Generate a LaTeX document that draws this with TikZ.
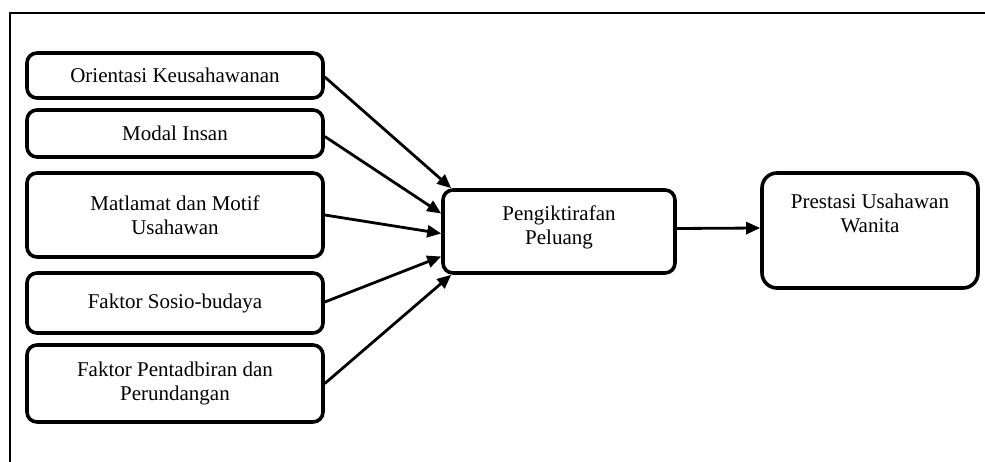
\documentclass[tikz,border=0pt]{standalone}
\usepackage{fontspec}
\setmainfont{Liberation Serif}
\usetikzlibrary{arrows.meta,calc}
\begin{document}
\begin{tikzpicture}[x=1pt,y=-1pt,
  box/.style={draw,line width=3.6pt,rounded corners=10pt,align=center,
    minimum width=296pt,inner sep=0pt,font=\fontsize{21}{23.5}\selectfont},
  bigbox/.style={box,rounded corners=15pt},
  lbl/.style={font=\fontsize{21}{24}\selectfont,align=center,inner sep=0pt},
  arr/.style={line width=2.8pt,-{Triangle[length=14pt,width=12pt]}},
  frame/.style={line width=1.4pt}]
\useasboundingbox (0,0) rectangle (985,462);
\draw[frame] (10,462) -- (10,13) -- (985,13);
\node[box,minimum height=45pt] (b1) at (175,75.5) {Orientasi Keusahawanan};
\node[box,minimum height=47pt] (b2) at (175,133.5) {Modal Insan};
\node[box,minimum height=84pt] (b3) at (175,215) {Matlamat dan Motif\\Usahawan};
\node[box,minimum height=60pt] (b4) at (175,303) {Faktor Sosio-budaya};
\node[box,minimum height=77pt] (b5) at (175,383.5) {Faktor Pentadbiran dan\\Perundangan};
\node[box,minimum width=232pt,minimum height=83pt] (c) at (559,231.5) {};
\node[lbl] (ct) at (559,227.5) {Pengiktirafan\\Peluang};
\node[bigbox,minimum width=216pt,minimum height=115pt] (r) at (870,230.5) {};
\node[lbl] (rt) at (870,213.5) {Prestasi Usahawan\\Wanita};
\draw[arr] ($(b1.east)+(0,1.5)$) -- ($(c.north west)+(10,0)$);
\draw[arr] ($(b2.east)+(0,3)$) -- ($(c.west)+(0,-18)$);
\draw[arr] (b3.east) -- ($(c.west)+(0,2)$);
\draw[arr] ($(b4.east)+(0,-1)$) -- ($(c.west)+(0,25)$);
\draw[arr] (b5.east) -- ($(c.south west)+(10,0)$);
\draw[arr] ($(c.east)+(0,-3)$) -- ($(r.west)+(0,-2.5)$);
\end{tikzpicture}
\end{document}
